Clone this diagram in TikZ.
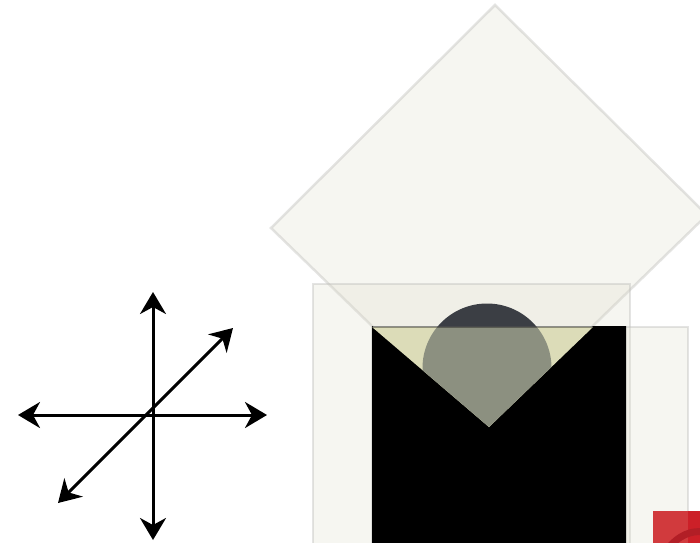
\documentclass[tikz,border=0pt]{standalone}
\usetikzlibrary{arrows.meta}
\definecolor{paperfill}{RGB}{222,220,204}
\definecolor{paperline}{RGB}{188,188,184}
\definecolor{slate}{RGB}{59,62,68}
\definecolor{sage}{RGB}{140,144,128}
\definecolor{cream}{RGB}{220,220,184}
\definecolor{brick}{RGB}{204,32,40}
\definecolor{brickpale}{RGB}{209,58,61}
\definecolor{brickdark}{RGB}{178,30,38}
\begin{document}
\begin{tikzpicture}[x=1pt, y=-1pt,
    sheet/.style={fill=paperfill, fill opacity=0.27, draw=paperline, draw opacity=0.4, line width=2.5pt},
    axisline/.style={line width=3pt, {Stealth[length=22pt,width=26pt,inset=7pt]}-{Stealth[length=22pt,width=26pt,inset=7pt]}}]
    \useasboundingbox (0,0) rectangle (700,542);
    \clip (0,0) rectangle (700,542);
    % Axes
    \coordinate (up) at (153,292);
    \coordinate (down) at (153,540);
    \coordinate (left) at (18,415);
    \coordinate (right) at (267,415);
    \coordinate (ne) at (233,328);
    \coordinate (sw) at (58,503);
    \draw[axisline] (up) -- (down);
    \draw[axisline] (left) -- (right);
    \draw[axisline] (sw) -- (ne);
    % Diamond
    \draw[sheet] (495,5) -- (707,215) -- (489,427) -- (373,327) -- (271,228) -- cycle;
    % Back sheet
    \draw[sheet] (313,284) rectangle (630,560);
    % Disc
    \fill[slate] (487,368) circle (64.5);
    % Front sheet
    \draw[sheet] (372,327) rectangle (688,560);
    % Black block with the notch
    \fill (372,326) -- (489,427) -- (593,326) -- (626,326) -- (626,560) -- (372,560) -- cycle;
    \fill[cream] (372,327) -- (489,427) -- (593,327) -- cycle;
    \begin{scope}
        \clip (372,327) -- (489,427) -- (593,327) -- cycle;
        \fill[sage] (487,368) circle (64.5);
    \end{scope}
    \draw[black, opacity=0.35, line width=2pt] (372,327) -- (593,327);
    % Red square
    \fill[brickpale] (653,511) rectangle (688,560);
    \fill[brick] (688,511) rectangle (720,560);
    \draw[brickdark, line width=7pt] (667,550) .. controls (678,535) and (692,530) .. (704,532);
\end{tikzpicture}
\end{document}
